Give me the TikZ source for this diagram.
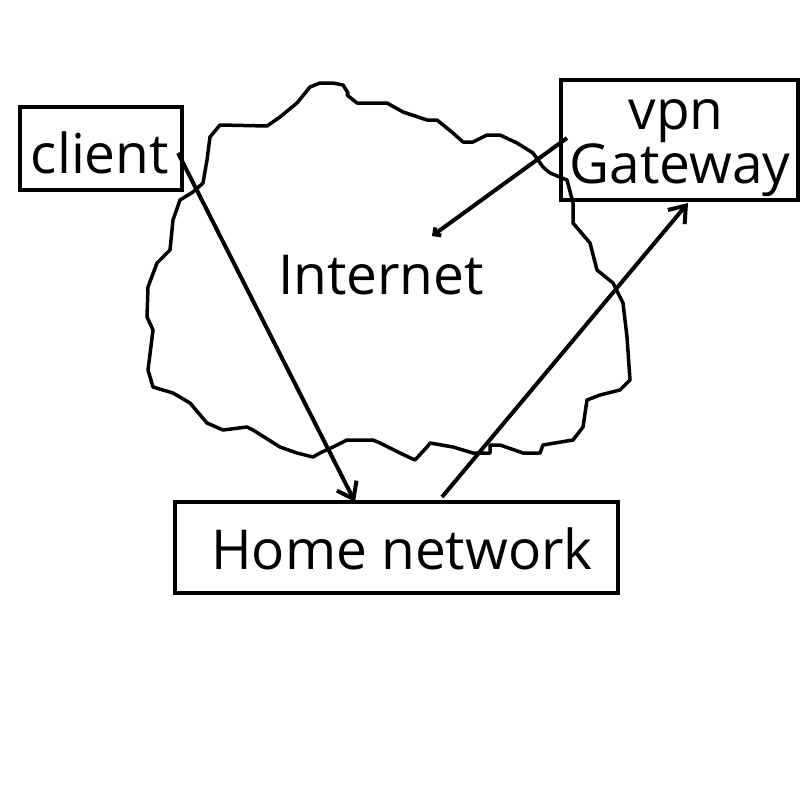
\documentclass[tikz,border=0pt]{standalone}
\usepackage{fontspec}
\setmainfont{Open Sans}
\usetikzlibrary{arrows.meta}
\begin{document}
\begin{tikzpicture}[x=1pt,y=-1pt,
  box/.style={draw,line width=4pt,rectangle,inner sep=0pt},
  lbl/.style={font=\fontsize{55}{48}\selectfont},
  conn/.style={line width=4pt,-{Straight Barb[length=15pt,width=22pt,line width=4pt]}},
  smallconn/.style={line width=4pt,-{Straight Barb[length=5pt,width=10pt,line width=4pt]}}]
\useasboundingbox (0,0) rectangle (800,800);
% cloud
\draw[line width=3.5pt,line join=round]
 (320,83) -- (333,83) -- (343,85) -- (348,93) -- (347,95) -- (357,103) -- (387,103)
 -- (403,112) -- (427,120) -- (437,120) -- (453,133) -- (463,142) -- (473,142)
 -- (487,135) -- (500,135) -- (517,143) -- (533,153) -- (543,167) -- (550,173)
 -- (567,180) -- (573,203) -- (573,223) -- (590,243) -- (597,270) -- (613,283)
 -- (623,303) -- (627,337) -- (630,380) -- (620,390) -- (600,395) -- (587,400)
 -- (583,427) -- (573,440) -- (543,445) -- (540,453) -- (523,453) -- (500,445)
 -- (490,445) -- (490,453) -- (473,453) -- (453,447) -- (430,443) -- (427,447)
 -- (415,460) -- (400,453) -- (380,443) -- (373,440) -- (347,440) -- (333,447)
 -- (320,453) -- (313,457) -- (297,453) -- (280,447) -- (253,430) -- (247,427)
 -- (223,430) -- (207,423) -- (190,403) -- (173,393) -- (153,387) -- (148,370)
 -- (153,330) -- (147,317) -- (148,287) -- (157,263) -- (170,250) -- (173,220)
 -- (180,200) -- (193,192) -- (203,183) -- (207,160) -- (210,137) -- (220,125)
 -- (267,126) -- (280,117) -- (297,103) -- (310,87) -- cycle;
\node[lbl] (internet) at (381,275) {Internet};
\node[box,minimum width=162pt,minimum height=83pt] (client) at (101,148.5) {};
\node[lbl] (clienttxt) at (100,153) {client};
\node[box,minimum width=237pt,minimum height=120pt] (vpn) at (679.5,140) {};
\node[lbl,align=center] (vpntxt) at (680,148) {\hspace*{-8pt}vpn\\Gateway};
\node[box,minimum width=443pt,minimum height=91pt] (home) at (396.5,547.5) {};
\node[lbl] (hometxt) at (402,549) {Home network};
\coordinate (c1) at (178,153);
\coordinate (c2) at (355,502);
\coordinate (v1) at (567,138);
\coordinate (v2) at (432,236);
\coordinate (h1) at (442,497);
\coordinate (h2) at (688,203);
\draw[conn] (c1) -- (c2);
\draw[smallconn] (v1) -- (v2);
\draw[conn] (h1) -- (h2);
\end{tikzpicture}
\end{document}
